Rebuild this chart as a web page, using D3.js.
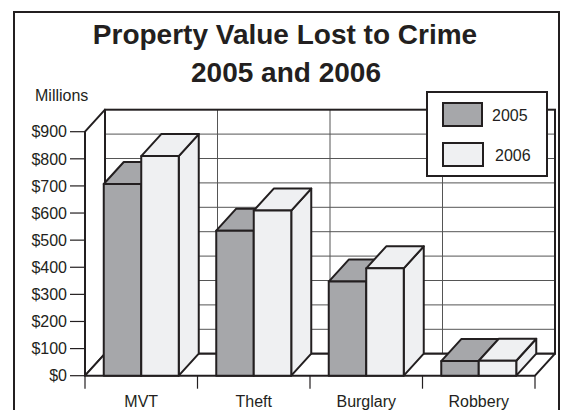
<!DOCTYPE html>
<html>
<head>
<meta charset="utf-8">
<script src="https://cdn.jsdelivr.net/npm/d3@7"></script>
<style>
  body { margin: 0; background: #fff; }
  text { font-family: "Liberation Sans", Arial, Helvetica, sans-serif; fill: #231f20; }
</style>
</head>
<body>
<div id="chart"></div>
<script>
const categories = ["MVT", "Theft", "Burglary", "Robbery"];
const series = ["2005", "2006"];
const values2005 = [707, 535, 347, 54];
const values2006 = [810, 609, 396, 55];
const yTicks = [0, 100, 200, 300, 400, 500, 600, 700, 800, 900];
const yTickLabels = ["$0", "$100", "$200", "$300", "$400", "$500", "$600", "$700", "$800", "$900"];
const colors = ["#a6a7aa", "#eff0f2"];

const ink = "#231f20";
const W = 561, H = 410;
const depth = {x: 20, y: -22};

let svg = d3.select("#chart").append("svg")
    .attr("width", W)
    .attr("height", H);

// outer frame
svg.append("rect")
    .attr("x", 14).attr("y", 12)
    .attr("width", 545).attr("height", 420)
    .attr("fill", "none").attr("stroke", ink).attr("stroke-width", 2);

// title
svg.append("text")
    .attr("x", 285).attr("y", 44)
    .attr("text-anchor", "middle")
    .style("font-size", "28px").style("font-weight", "bold")
    .text("Property Value Lost to Crime");
svg.append("text")
    .attr("x", 286).attr("y", 82)
    .attr("text-anchor", "middle")
    .style("font-size", "28px").style("font-weight", "bold")
    .text("2005 and 2006");

svg.append("text")
    .attr("x", 35).attr("y", 101)
    .style("font-size", "16px")
    .text("Millions");

let x = d3.scaleBand()
    .domain(categories)
    .range([85, 535]);

let xs = d3.scaleBand()
    .domain(series)
    .range([0, x.bandwidth()])
    .paddingOuter(0.5);

let y = d3.scaleLinear()
    .domain([0, 900])
    .range([375.7, 131.7]);

const x0 = x.range()[0], x1 = x.range()[1];
const y0 = y(0), yTop = y(900);
const dx = depth.x, dy = depth.y;

// back wall
svg.append("rect")
    .attr("x", x0 + dx).attr("y", yTop + dy)
    .attr("width", x1 - x0).attr("height", y0 - yTop)
    .attr("fill", "#fff");

// back wall gridlines (10 divisions)
let yBack = d3.scaleLinear().domain([0, 10]).range([y0 + dy, yTop + dy]);
svg.append("g").selectAll("line")
    .data(d3.range(1, 10))
    .enter().append("line")
    .attr("x1", x0 + dx).attr("x2", x1 + dx)
    .attr("y1", d => yBack(d)).attr("y2", d => yBack(d))
    .attr("stroke", "#555").attr("stroke-width", 1);

svg.append("g").selectAll("line")
    .data(categories.slice(1))
    .enter().append("line")
    .attr("x1", d => x(d) + dx).attr("x2", d => x(d) + dx)
    .attr("y1", yTop + dy).attr("y2", y0 + dy)
    .attr("stroke", "#555").attr("stroke-width", 1);

svg.append("rect")
    .attr("x", x0 + dx).attr("y", yTop + dy)
    .attr("width", x1 - x0).attr("height", y0 - yTop)
    .attr("fill", "none").attr("stroke", ink).attr("stroke-width", 2);

// left wall
svg.append("polygon")
    .attr("points", [[x0, yTop], [x0 + dx, yTop + dy], [x0 + dx, y0 + dy], [x0, y0]].join(" "))
    .attr("fill", "#fff").attr("stroke", ink).attr("stroke-width", 2)
    .attr("stroke-linejoin", "round");

// floor
svg.append("polygon")
    .attr("points", [[x0, y0], [x1, y0], [x1 + dx, y0 + dy], [x0 + dx, y0 + dy]].join(" "))
    .attr("fill", "#fff").attr("stroke", ink).attr("stroke-width", 2)
    .attr("stroke-linejoin", "round");

// y axis ticks
let yAxis = svg.append("g");
yAxis.selectAll("line")
    .data(yTicks)
    .enter().append("line")
    .attr("x1", 70).attr("x2", x0)
    .attr("y1", d => y(d)).attr("y2", d => y(d))
    .attr("stroke", ink).attr("stroke-width", 1.2);
yAxis.selectAll("text")
    .data(yTicks)
    .enter().append("text")
    .attr("x", 67).attr("y", d => y(d))
    .attr("dy", "0.36em")
    .attr("text-anchor", "end")
    .style("font-size", "16px")
    .text((d, i) => yTickLabels[i]);

// x axis ticks + labels
let xAxis = svg.append("g");
xAxis.selectAll("line")
    .data(categories.concat(["end"]))
    .enter().append("line")
    .attr("x1", (d, i) => i < categories.length ? x(d) : x1)
    .attr("x2", (d, i) => i < categories.length ? x(d) : x1)
    .attr("y1", y0).attr("y2", y0 + 13)
    .attr("stroke", ink).attr("stroke-width", 1.2);
xAxis.selectAll("text")
    .data(categories)
    .enter().append("text")
    .attr("x", d => x(d) + xs("2006"))
    .attr("y", 406.5)
    .attr("text-anchor", "middle")
    .style("font-size", "16px")
    .text(d => d);

// bars
let barData = [];
categories.forEach(function (c, i) {
    barData.push({cat: c, s: "2005", v: values2005[i], color: colors[0]});
    barData.push({cat: c, s: "2006", v: values2006[i], color: colors[1]});
});

let bars = svg.append("g").selectAll("g")
    .data(barData)
    .enter().append("g")
    .attr("stroke", ink).attr("stroke-width", 2)
    .attr("stroke-linejoin", "round")
    .attr("fill", d => d.color);

function bx0(d) { return x(d.cat) + xs(d.s); }
function bx1(d) { return x(d.cat) + xs(d.s) + xs.bandwidth(); }

bars.append("polygon")
    .attr("points", d => [[bx1(d), y(d.v)], [bx1(d) + dx, y(d.v) + dy], [bx1(d) + dx, y0 + dy], [bx1(d), y0]].join(" "));
bars.append("polygon")
    .attr("points", d => [[bx0(d), y(d.v)], [bx0(d) + dx, y(d.v) + dy], [bx1(d) + dx, y(d.v) + dy], [bx1(d), y(d.v)]].join(" "));
bars.append("rect")
    .attr("x", d => bx0(d))
    .attr("y", d => y(d.v))
    .attr("width", xs.bandwidth())
    .attr("height", d => y0 - y(d.v));

// legend
let legend = svg.append("g");
legend.append("rect")
    .attr("x", 427).attr("y", 92)
    .attr("width", 120).attr("height", 84)
    .attr("fill", "#fff").attr("stroke", ink).attr("stroke-width", 2);
let items = legend.selectAll("g.item")
    .data(series)
    .enter().append("g")
    .attr("class", "item")
    .attr("transform", (d, i) => "translate(443," + (103 + i * 40) + ")");
items.append("rect")
    .attr("width", (d, i) => 39 + i)
    .attr("height", 23)
    .attr("fill", (d, i) => colors[i])
    .attr("stroke", ink).attr("stroke-width", 2);
items.append("text")
    .attr("x", (d, i) => 49 + i * 3)
    .attr("y", 12)
    .attr("dy", "0.36em")
    .style("font-size", "16px")
    .text(d => d);
</script>
</body>
</html>
